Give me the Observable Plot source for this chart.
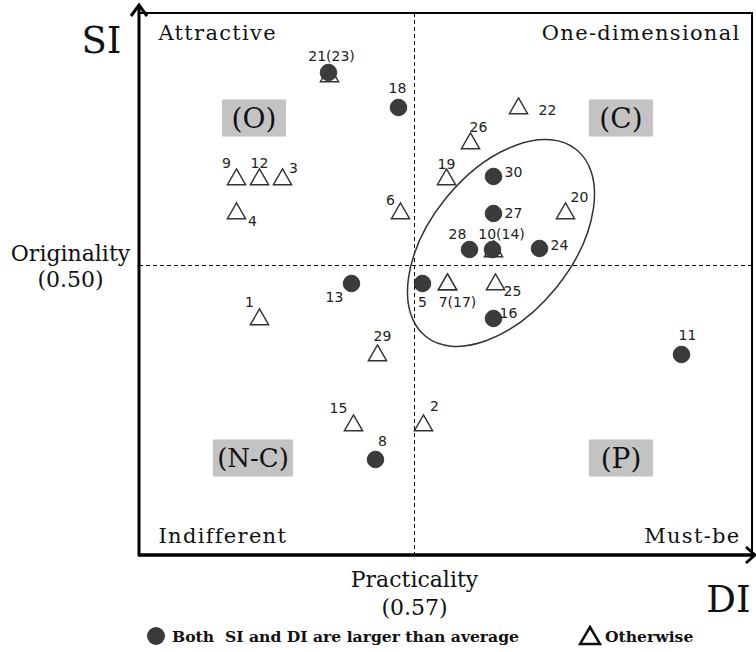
<!DOCTYPE html>
<html>
<head>
<meta charset="utf-8">
<script src="https://cdn.jsdelivr.net/npm/d3@7"></script>
<script src="https://cdn.jsdelivr.net/npm/@observablehq/plot@0.6"></script>
<style>
  html, body { margin: 0; padding: 0; background: #fff; }
  #chart { width: 756px; }
  #legend { position: relative; width: 756px; height: 32px; font-family: "DejaVu Serif", serif; font-weight: bold; font-size: 15.6px; color: #111; }
  #legend .item { position: absolute; top: 0; height: 32px; display: flex; align-items: center; }
  #legend svg { display: block; }
</style>
</head>
<body>
<div id="chart"></div>
<div id="legend">
  <div class="item" style="left:146px;"><svg width="22" height="22"><circle cx="10" cy="11" r="9" fill="#3a3a3a"/></svg><span style="margin-left:4px;">Both&nbsp; SI and DI are larger than average</span></div>
  <div class="item" style="left:578px;"><svg width="24" height="22"><path d="M12,2 L22,19 L2,19 Z" fill="none" stroke="#111" stroke-width="2.5" stroke-linejoin="miter"/></svg><span style="margin-left:3px;">Otherwise</span></div>
</div>
<script>
// ---- data ----
const ids   = [1, 2, 3, 4, 5, 6, 7, 8, 9, 10, 11, 12, 13, 14, 15, 16, 17, 18, 19, 20, 21, 22, 23, 24, 25, 26, 27, 28, 29, 30];
const diVal = [0.415, 0.579, 0.438, 0.392, 0.578, 0.556, 0.603, 0.531, 0.392, 0.648, 0.837, 0.415, 0.507, 0.649, 0.509, 0.649, 0.603, 0.554, 0.602, 0.721, 0.484, 0.674, 0.485, 0.695, 0.651, 0.626, 0.649, 0.625, 0.533, 0.649];
const siVal = [0.446, 0.340, 0.586, 0.552, 0.482, 0.552, 0.481, 0.306, 0.586, 0.516, 0.411, 0.586, 0.482, 0.514, 0.340, 0.447, 0.481, 0.658, 0.586, 0.552, 0.693, 0.657, 0.689, 0.517, 0.481, 0.622, 0.552, 0.516, 0.410, 0.589];
const bothAbove = [false, false, false, false, true, false, false, true, false, true, true, false, true, false, false, true, false, true, false, false, true, false, false, true, false, false, true, true, false, true];

const labelText = ["1", "2", "3", "4", "5", "6", "7(17)", "8", "9", "10(14)", "11", "12", "13", "15", "16", "18", "19", "20", "21(23)", "22", "24", "25", "26", "27", "28", "29", "30"];
const labelFor  = [1, 2, 3, 4, 5, 6, 7, 8, 9, 10, 11, 12, 13, 15, 16, 18, 19, 20, 21, 22, 24, 25, 26, 27, 28, 29, 30];

const diMean = 0.57;
const siMean = 0.50;
const xDomain = [0.295, 0.908];
const yDomain = [0.21, 0.752];

const quadrantNames = ["Attractive", "One-dimensional", "Indifferent", "Must-be"];
const quadrantTags  = ["(O)", "(C)", "(N-C)", "(P)"];
const tagDI = [0.410, 0.777, 0.409, 0.777];
const tagSI = [0.647, 0.647, 0.307, 0.307];

// region ellipse (centre in data units)
const ellipseDI = 0.657;
const ellipseSI = 0.522;

// ---- layout (pixel offsets / styles) ----
const labelOffset = {
  "21(23)": [3, -16], "18": [-1, -19], "9": [-10, -16], "12": [0, -16], "3": [11, -11],
  "4": [16, 8], "6": [-10, -13], "19": [0, -15], "26": [8, -16], "22": [29, 2],
  "30": [20, -4], "27": [20, 0], "20": [14, -16], "28": [-12, -15], "10(14)": [9, -15],
  "24": [20, -3], "13": [-17, 14], "5": [0, 19], "7(17)": [10, 18], "25": [17, 7],
  "16": [15, -5], "11": [6, -19], "1": [-10, -17], "29": [5, -19], "15": [-15, -17],
  "2": [11, -19], "8": [7, -18]
};
const ellipseStyle = { rx: 120, ry: 71, angle: -51 };

const points = ids.map((id, i) => ({ id, di: diVal[i], si: siVal[i], both: bothAbove[i] }));
const byId = new Map(points.map(p => [p.id, p]));
const labels = labelText.map((t, i) => ({ text: t, di: byId.get(labelFor[i]).di, si: byId.get(labelFor[i]).si }));
const tags = quadrantTags.map((t, i) => ({ text: t, di: tagDI[i], si: tagSI[i] }));

const W = 756, H = 620, mL = 139, mR = 4, mT = 13, mB = 65;

function getScales(scales) {
  const sx = scales && typeof scales.x === "function" ? scales.x : d3.scaleLinear(xDomain, [mL, W - mR]);
  const sy = scales && typeof scales.y === "function" ? scales.y : d3.scaleLinear(yDomain, [H - mB, mT]);
  return { sx, sy };
}

function ellipseMark(index, scales) {
  const { sx, sy } = getScales(scales);
  const g = d3.create("svg:g");
  g.append("ellipse")
    .attr("cx", 0).attr("cy", 0)
    .attr("rx", ellipseStyle.rx).attr("ry", ellipseStyle.ry)
    .attr("transform", `translate(${sx(ellipseDI)},${sy(ellipseSI)}) rotate(${ellipseStyle.angle})`)
    .attr("fill", "none").attr("stroke", "#333").attr("stroke-width", 1.5);
  return g.node();
}

function tagMark(index, scales) {
  const { sx, sy } = getScales(scales);
  const g = d3.create("svg:g");
  tags.forEach(t => {
    const w = t.text.length > 3 ? 80 : 64, h = 37;
    const cx = sx(t.di), cy = sy(t.si);
    g.append("rect").attr("x", cx - w / 2).attr("y", cy - h / 2).attr("width", w).attr("height", h).attr("fill", "#c3c3c3");
    g.append("text").attr("x", cx).attr("y", cy).attr("dy", "0.36em")
      .attr("text-anchor", "middle").attr("font-family", "'DejaVu Serif', serif").attr("font-size", t.text.length > 3 ? 26 : 28)
      .attr("fill", "#111").text(t.text);
  });
  return g.node();
}

function axesMark(index, scales, values, dims) {
  const left = mL, right = W - mR, top = mT, bottom = H - mB;
  const g = d3.create("svg:g").attr("fill", "none").attr("stroke", "#000").attr("stroke-linecap", "butt");
  g.append("path").attr("d", `M${left},${top}H${right}V${bottom}`).attr("stroke-width", 2);
  g.append("path").attr("d", `M${left},${bottom + 1}V${top - 7}`).attr("stroke-width", 3);
  g.append("path").attr("d", `M${left - 8},${top + 3}L${left},${top - 8}L${left + 8},${top + 3}`).attr("stroke-width", 3);
  g.append("path").attr("d", `M${left - 1},${bottom}H${W - 1}`).attr("stroke-width", 3.5);
  g.append("path").attr("d", `M${W - 10},${bottom - 8}L${W - 1},${bottom}L${W - 10},${bottom + 8}`).attr("stroke-width", 3);
  return g.node();
}

const labelMarks = labels.map(l => Plot.text([l], {
  x: "di", y: "si", text: "text",
  dx: labelOffset[l.text][0], dy: labelOffset[l.text][1],
  fontFamily: "DejaVu Sans", fontSize: 14, fill: "#222"
}));

const serif = "'DejaVu Serif', serif";
const qStyle = { text: d => d, lineAnchor: "middle", fontFamily: serif, fontSize: 21, fill: "#111" };

const chart = Plot.plot({
  width: W, height: H,
  marginLeft: mL, marginRight: mR, marginTop: mT, marginBottom: mB,
  x: { domain: xDomain, axis: null },
  y: { domain: yDomain, axis: null },
  style: { background: "#fff", overflow: "visible" },
  marks: [
    Plot.ruleX([diMean], { stroke: "#000", strokeWidth: 1, strokeDasharray: "4,3" }),
    Plot.ruleY([siMean], { stroke: "#000", strokeWidth: 1, strokeDasharray: "4,3" }),
    ellipseMark,
    tagMark,
    Plot.dot(points.filter(p => !p.both), { x: "di", y: "si", symbol: "triangle", r: 6.8, stroke: "#333", strokeWidth: 1.4, fill: "#fff" }),
    Plot.dot(points.filter(p => p.both), { x: "di", y: "si", r: 8.3, fill: "#3b3b3b", stroke: "#222", strokeWidth: 0.8 }),
    ...labelMarks,
    // quadrant names
    Plot.text([quadrantNames[0]], { ...qStyle, frameAnchor: "top-left", dx: 19, dy: 20, textAnchor: "start" }),
    Plot.text([quadrantNames[1]], { ...qStyle, frameAnchor: "top-right", dx: -12, dy: 20, textAnchor: "end" }),
    Plot.text([quadrantNames[2]], { ...qStyle, frameAnchor: "bottom-left", dx: 19, dy: -19, textAnchor: "start" }),
    Plot.text([quadrantNames[3]], { ...qStyle, frameAnchor: "bottom-right", dx: -12, dy: -19, textAnchor: "end" }),
    // axis names
    Plot.text(["SI"], { frameAnchor: "top-left", dx: -38, dy: 28, text: d => d, textAnchor: "middle", lineAnchor: "middle", fontFamily: serif, fontSize: 37, fill: "#111" }),
    Plot.text(["DI"], { frameAnchor: "bottom-right", dx: -24, dy: 45, text: d => d, textAnchor: "middle", lineAnchor: "middle", fontFamily: serif, fontSize: 37, fill: "#111" }),
    Plot.text([siMean], { x: () => xDomain[0], y: d => d, dx: -69, text: d => `Originality\n(${d.toFixed(2)})`, textAnchor: "middle", lineAnchor: "middle", lineHeight: 1.18, fontFamily: serif, fontSize: 22, fill: "#111" }),
    Plot.text([diMean], { x: d => d, y: () => yDomain[0], dy: 37, text: d => `Practicality\n(${d.toFixed(2)})`, textAnchor: "middle", lineAnchor: "middle", lineHeight: 1.27, fontFamily: serif, fontSize: 22, fill: "#111" }),
    axesMark
  ]
});
// widen the quadrant names a little, like the reference typeface
d3.select(chart).selectAll("text")
  .filter(function () { return quadrantNames.includes(this.textContent); })
  .attr("letter-spacing", "1.3px")
  .style("letter-spacing", "1.3px");
document.getElementById("chart").appendChild(chart);
</script>
</body>
</html>
